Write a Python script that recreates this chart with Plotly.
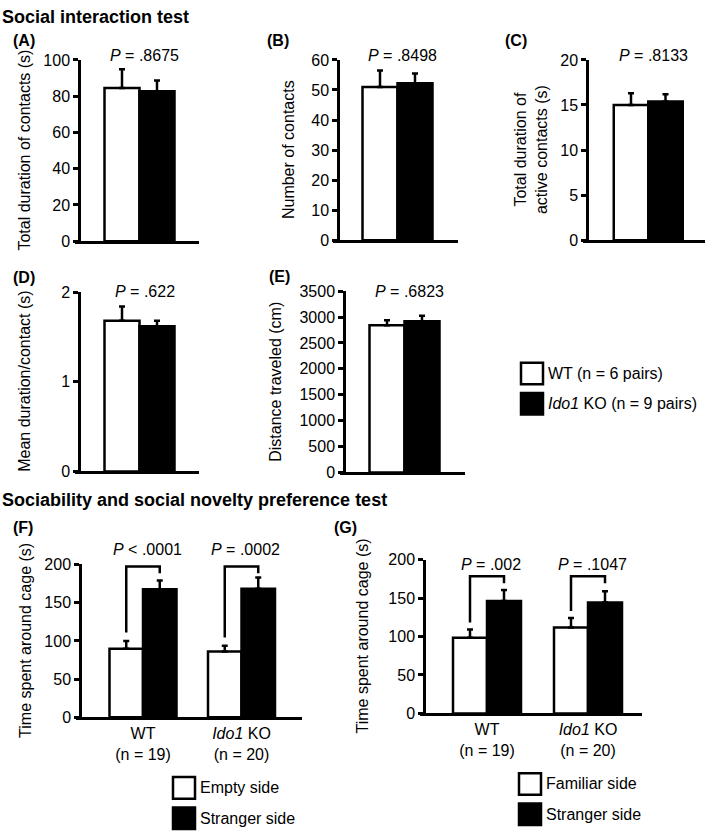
import plotly.graph_objects as go

W, H = 709, 839
FONT = "Liberation Sans, Arial, Helvetica, sans-serif"

# ---------------- data ----------------
# Social interaction test, panels A-E (WT vs Ido1 KO)
panel_ids = ["A", "B", "C", "D", "E"]
wt_means = [84.5, 51.0, 15.0, 1.68, 2843]
wt_errs = [10.3, 5.5, 1.3, 0.16, 95]
ko_means = [82.7, 52.2, 15.4, 1.62, 2919]
ko_errs = [5.9, 3.3, 0.8, 0.06, 107]
p_text_ae = ["= .8675", "= .8498", "= .8133", "= .622", "= .6823"]
ytitles_ae = ["Total duration of contacts (s)", "Number of contacts",
              "Total duration of<br>active contacts (s)",
              "Mean duration/contact (s)", "Distance traveled (cm)"]
ymax_ae = [100, 60, 20, 2, 3500]
dtick_ae = [20, 10, 5, 1, 500]
legend_ae = ["WT (n = 6 pairs)", "<i>Ido1</i> KO (n = 9 pairs)"]

# Sociability / social novelty, panels F-G
genotypes = ["WT", "<i>Ido1</i> KO"]
n_animals = [19, 20]
f_empty = [89.7, 86.3]
f_empty_err = [10.3, 7.3]
f_stranger = [167.5, 168.4]
f_stranger_err = [11.5, 14.5]
f_p = ["< .0001", "= .0002"]
g_familiar = [98.5, 111.7]
g_familiar_err = [10.6, 12.3]
g_stranger = [146.1, 144.3]
g_stranger_err = [14.4, 14.5]
g_p = ["= .002", "= .1047"]
fg_ymax = 200
fg_dtick = 50
fg_ytitle = "Time spent around cage (s)"
f_legend = ["Empty side", "Stranger side"]
g_legend = ["Familiar side", "Stranger side"]


# ---------------- layout helpers (pixels -> paper) ----------------
def X(px):
    return px / W


def Y(py):
    return 1 - py / H


# pixel boxes: x-axis start/end, y-axis x position, top/bottom of y range,
# pixel of first bar/group center, pixels per x unit
boxes = {
    "A": dict(x0=75, x1=199, yax=79, top=53, bot=238, c0=122, unit=35, tx=25, lab=(24, 33), py=48),
    "B": dict(x0=333, x1=458, yax=338, top=53, bot=237, c0=380, unit=35, tx=288, lab=(278, 33), py=48),
    "C": dict(x0=583, x1=705, yax=587, top=53, bot=237, c0=631, unit=34.5, tx=531, lab=(516, 33), py=48),
    "D": dict(x0=75, x1=199, yax=79, top=290, bot=473, c0=122, unit=35, tx=25, lab=(24, 275), py=289),
    "E": dict(x0=340, x1=465, yax=344, top=289, bot=474, c0=387, unit=35, tx=276, lab=(279, 274), py=289),
    "F": dict(x0=76, x1=302, yax=80, top=568, bot=724, c0=143, unit=98.5, bw=33.5, tx=26, lab=(23, 530)),
    "G": dict(x0=420, x1=642, yax=424, top=563, bot=720, c0=487, unit=101, bw=34, tx=363, lab=(345, 530)),
}

fig = go.Figure()
layout = dict(
    width=W, height=H, margin=dict(l=0, r=0, t=0, b=0),
    paper_bgcolor="white", plot_bgcolor="rgba(0,0,0,0)",
    barmode="overlay", showlegend=False,
    font=dict(family=FONT, size=16, color="black"),
)
annotations = []
shapes = []

LW = 2.5


def setup_axes(i, key, ymax, dtick, ticktext=None):
    b = boxes[key]
    xr = [(b["x0"] - b["c0"]) / b["unit"], (b["x1"] - b["c0"]) / b["unit"]]
    xa = dict(domain=[X(b["x0"]), X(b["x1"])], range=xr, anchor=f"y{i}",
              showline=True, linewidth=LW, linecolor="black", showgrid=False,
              zeroline=False, ticks="", fixedrange=True)
    if ticktext is None:
        xa["showticklabels"] = False
    else:
        xa.update(tickmode="array", tickvals=list(range(len(ticktext))),
                  ticktext=ticktext, tickfont=dict(size=16))
    ya = dict(domain=[Y(b["bot"]), Y(b["top"])], range=[0, ymax], dtick=dtick,
              anchor="free", position=X(b["yax"]),
              showline=True, linewidth=LW, linecolor="black", showgrid=False,
              zeroline=False, ticks="outside", ticklen=5, tickwidth=LW,
              tickcolor="black", tickfont=dict(size=16), fixedrange=True)
    sfx = "" if i == 1 else str(i)
    layout["xaxis" + sfx] = xa
    layout["yaxis" + sfx] = ya


def bar(i, x, y, err, fill, width):
    sfx = "" if i == 1 else str(i)
    return go.Bar(
        x=x, y=y, width=width, xaxis="x" + sfx, yaxis="y" + sfx,
        marker=dict(color=fill, line=dict(color="black", width=LW)),
        error_y=dict(type="data", symmetric=False, array=err,
                     arrayminus=[0] * len(err), color="black",
                     thickness=LW, width=3),
        hoverinfo="y",
    )


def ytitle(key, text):
    b = boxes[key]
    annotations.append(dict(
        text=text, x=X(b["tx"]), y=Y((b["top"] + b["bot"]) / 2),
        xref="paper", yref="paper", textangle=-90, showarrow=False,
        xanchor="center", yanchor="middle", font=dict(size=16)))


def label(key):
    b = boxes[key]
    annotations.append(dict(
        text=f"<b>({key})</b>", x=X(b["lab"][0]), y=Y(b["lab"][1]),
        xref="paper", yref="paper", showarrow=False,
        xanchor="center", yanchor="middle", font=dict(size=16)))


# ---------------- panels A-E ----------------
for k, key in enumerate(panel_ids):
    i = k + 1
    setup_axes(i, key, ymax_ae[k], dtick_ae[k])
    fig.add_trace(bar(i, [0], [wt_means[k]], [wt_errs[k]], "white", [1]))
    fig.add_trace(bar(i, [1], [ko_means[k]], [ko_errs[k]], "black", [1]))
    ytitle(key, ytitles_ae[k])
    label(key)
    b = boxes[key]
    annotations.append(dict(
        text=f"<i>P</i> {p_text_ae[k]}", x=X(b["c0"] + b["unit"] / 2 + 5), y=Y(b["py"]),
        xref="paper", yref="paper", showarrow=False,
        xanchor="center", yanchor="middle", font=dict(size=16)))

# ---------------- panels F-G ----------------
fg = [
    ("F", 6, f_empty, f_empty_err, f_stranger, f_stranger_err, f_p, 197.4, 11, 9, 553),
    ("G", 7, g_familiar, g_familiar_err, g_stranger, g_stranger_err, g_p, 178.3, 9, 9, 568),
]
tick_labels = [f"{g}<br>(n = {n})" for g, n in zip(genotypes, n_animals)]
for key, i, m1, e1, m2, e2, pt, blev, gap, rgap, py in fg:
    b = boxes[key]
    bw = b["bw"] / b["unit"]
    setup_axes(i, key, fg_ymax, fg_dtick, tick_labels)
    xs = list(range(len(m1)))
    x_white = [x - bw / 2 for x in xs]
    x_black = [x + bw / 2 for x in xs]
    fig.add_trace(bar(i, x_white, m1, e1, "white", [bw] * len(xs)))
    fig.add_trace(bar(i, x_black, m2, e2, "black", [bw] * len(xs)))
    ytitle(key, fg_ytitle)
    label(key)
    for j in xs:
        y_left = m1[j] + e1[j] + gap
        y_right = blev - rgap
        shapes.append(dict(
            type="path", xref=f"x{i}", yref=f"y{i}",
            path=f"M {x_white[j]},{y_left} L {x_white[j]},{blev} L {x_black[j]},{blev} L {x_black[j]},{y_right}",
            line=dict(color="black", width=LW)))
        annotations.append(dict(
            text=f"<i>P</i> {pt[j]}", x=X(b["c0"] + j * b["unit"] + 4), y=Y(py),
            xref="paper", yref="paper", showarrow=False,
            xanchor="center", yanchor="middle", font=dict(size=16)))


# ---------------- section titles ----------------
annotations.append(dict(text="<b>Social interaction test</b>", x=0, y=Y(9),
                        xref="paper", yref="paper", showarrow=False,
                        xanchor="left", yanchor="middle", font=dict(size=18)))
annotations.append(dict(text="<b>Sociability and social novelty preference test</b>",
                        x=0, y=Y(502), xref="paper", yref="paper", showarrow=False,
                        xanchor="left", yanchor="middle", font=dict(size=18)))


# ---------------- legends (drawn boxes + text) ----------------
def legend(x0, ys, labels):
    fills = ["white", "black"]
    for yy, lab, fill in zip(ys, labels, fills):
        shapes.append(dict(type="rect", xref="paper", yref="paper",
                           x0=X(x0), x1=X(x0 + 22), y0=Y(yy + 11), y1=Y(yy - 11),
                           fillcolor=fill, line=dict(color="black", width=LW)))
        annotations.append(dict(text=lab, x=X(x0 + 25), y=Y(yy), xref="paper", yref="paper",
                                showarrow=False, xanchor="left", yanchor="middle",
                                font=dict(size=16)))


legend(521, [373, 404], legend_ae)
legend(173, [796, 827], f_legend)
legend(519, [792, 823], g_legend)

layout["annotations"] = annotations
layout["shapes"] = shapes
fig.update_layout(**layout)
fig.write_html(
    "out.html",
    config={"displayModeBar": False},
    post_script="document.body.style.margin='0';document.body.style.overflow='hidden';",
)
